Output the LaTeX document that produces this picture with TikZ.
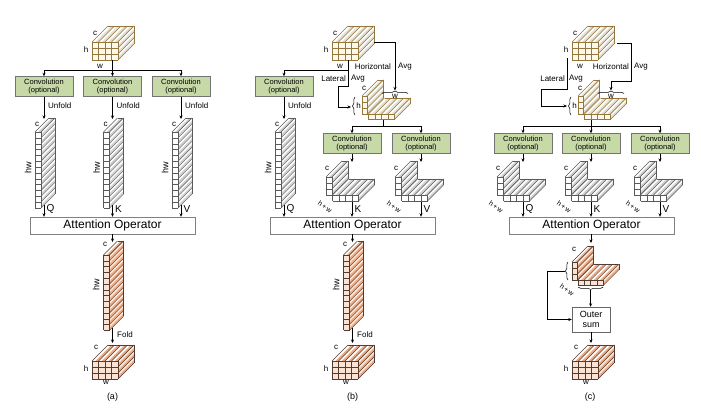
\documentclass[tikz,border=0pt]{standalone}
\usepackage{fontspec}
\setmainfont{Liberation Sans}
\usetikzlibrary{arrows.meta, decorations.pathreplacing, calc}

\definecolor{convgreen}{RGB}{198,217,166}
% input tensor colours
\definecolor{pinline}{RGB}{150,118,58}
\definecolor{pinfront}{RGB}{253,249,236}
\definecolor{pintop}{RGB}{255,255,255}
\definecolor{pinside}{RGB}{255,255,255}
\definecolor{pinstripe}{RGB}{226,222,210}
% query/key/value colours
\definecolor{pgrline}{RGB}{90,90,90}
\definecolor{pgrfront}{RGB}{255,255,255}
\definecolor{pgrtop}{RGB}{255,255,255}
\definecolor{pgrside}{RGB}{255,255,255}
\definecolor{pgrstripe}{RGB}{208,208,208}
% output colours
\definecolor{porline}{RGB}{80,60,50}
\definecolor{porfront}{RGB}{252,226,210}
\definecolor{portop}{RGB}{255,255,255}
\definecolor{porside}{RGB}{252,232,220}
\definecolor{porstripe}{RGB}{240,170,130}

% tensor block: x, y (front top-left), columns, rows, cell width, cell height, depth, palette
\newcommand{\slab}[8]{%
  \pgfmathsetmacro{\slW}{#3*#5}%
  \pgfmathsetmacro{\slH}{#4*#6}%
  % top face
  \fill[#8top] (#1,#2) -- ++(\slW,0) -- ++(#7,-#7) -- ++(-\slW,0) -- cycle;
  \foreach \i in {1,...,#3}
    \fill[#8stripe] ({#1+(\i-0.5)*#5},#2) -- ++(0.5*#5,0) -- ++(#7,-#7) -- ++(-0.5*#5,0) -- cycle;
  \foreach \i in {0,...,#3}
    \draw[#8line, line width=0.4pt] ({#1+\i*#5},#2) -- ++(#7,-#7);
  \draw[#8line, line width=0.4pt] ({#1+#7},{#2-#7}) -- ++(\slW,0);
  % side face
  \fill[#8side] ({#1+\slW},#2) -- ++(0,\slH) -- ++(#7,-#7) -- ++(0,-\slH) -- cycle;
  \foreach \j in {1,...,#4}
    \fill[#8stripe] ({#1+\slW},{#2+(\j-0.5)*#6}) -- ++(0,0.5*#6) -- ++(#7,-#7) -- ++(0,-0.5*#6) -- cycle;
  \foreach \j in {0,...,#4}
    \draw[#8line, line width=0.4pt] ({#1+\slW},{#2+\j*#6}) -- ++(#7,-#7);
  \draw[#8line, line width=0.4pt] ({#1+\slW+#7},{#2-#7}) -- ++(0,\slH);
  % front face
  \fill[#8front] (#1,#2) rectangle ++(\slW,\slH);
  \foreach \i in {0,...,#3}
    \draw[#8line, line width=0.4pt] ({#1+\i*#5},#2) -- ++(0,\slH);
  \foreach \j in {0,...,#4}
    \draw[#8line, line width=0.4pt] (#1,{#2+\j*#6}) -- ++(\slW,0);
}

\begin{document}
\begin{tikzpicture}[
    x=1pt, y=-1pt,
    conv/.style={draw=black!55, fill=convgreen, minimum width=58pt, minimum height=20pt, inner sep=0pt, align=center, font=\fontsize{7.5}{8.5}\selectfont},
    attn/.style={draw=black!50, fill=white, minimum width=165pt, minimum height=17pt, inner sep=0pt, font=\fontsize{12}{14}\selectfont},
    sumbox/.style={draw=black!60, fill=white, minimum width=38pt, minimum height=25pt, inner sep=0pt, align=center, font=\fontsize{9}{10.5}\selectfont},
    lbl/.style={inner sep=0pt, font=\fontsize{8}{9}\selectfont},
    qkv/.style={inner sep=0pt, anchor=west, font=\fontsize{10}{12}\selectfont},
    dimlbl/.style={inner sep=0pt, font=\fontsize{9}{10}\selectfont, rotate=90},
    hwlbl/.style={inner sep=0pt, font=\fontsize{7}{8}\selectfont, rotate=-35},
    sublbl/.style={inner sep=0pt, font=\fontsize{9}{10}\selectfont},
    arr/.style={-{Stealth[length=3.5pt, width=3pt]}, line width=0.6pt},
    lin/.style={line width=0.6pt},
    brc/.style={decorate, decoration={brace, amplitude=2.5pt}, line width=0.5pt}
]
\fill[white] (0,0) rectangle (701,410);
\useasboundingbox (0,0) rectangle (701,410);

% ================= (a) =================
% Input tensor
\slab{92}{42}{4}{3}{6.5}{6}{16}{pin}
\node[lbl] (ca1) at (95,33) {c};
\node[lbl] (ha1) at (86,50) {h};
\node[lbl] (wa1) at (100,66) {w};

% Convolutions
\node[conv] (convQa) at (44,86.5) {Convolution\\(optional)};
\node[conv] (convKa) at (112.5,86.5) {Convolution\\(optional)};
\node[conv] (convVa) at (181,86.5) {Convolution\\(optional)};
\coordinate (cubeA) at (112.5,60);
\coordinate (busA) at (112.5,70);
\draw[lin] (cubeA) -- (busA);
\draw[lin] (convQa.north |- busA) -- (convVa.north |- busA);
\draw[arr] (convQa.north |- busA) -- (convQa.north);
\draw[arr] (busA) -- (convKa.north);
\draw[arr] (convVa.north |- busA) -- (convVa.north);

% Unfolded Q, K, V
\slab{35}{132}{1}{13}{6}{5.85}{14}{pgr}
\slab{103.5}{132}{1}{13}{6}{5.85}{14}{pgr}
\slab{172}{132}{1}{13}{6}{5.85}{14}{pgr}
\node[lbl] (cqa) at (37,124) {c};
\node[lbl] (cka) at (105.5,124) {c};
\node[lbl] (cva) at (174,124) {c};
\node[dimlbl] (hwqa) at (28,168) {hw};
\node[dimlbl] (hwka) at (96.5,168) {hw};
\node[dimlbl] (hwva) at (165,168) {hw};
\coordinate (qaT) at (44,119);
\coordinate (kaT) at (112.5,119);
\coordinate (vaT) at (181,119);
\draw[arr] (convQa.south) -- (qaT);
\draw[arr] (convKa.south) -- (kaT);
\draw[arr] (convVa.south) -- (vaT);
\node[lbl, anchor=west] (unfQa) at (48,106) {Unfold};
\node[lbl, anchor=west] (unfKa) at (116.5,106) {Unfold};
\node[lbl, anchor=west] (unfVa) at (185,106) {Unfold};

% Attention
\node[attn] (attnA) at (112.5,225.5) {Attention Operator};
\coordinate (qaB) at (44,205);
\coordinate (kaB) at (112.5,205);
\coordinate (vaB) at (181,205);
\draw[arr] (qaB) -- (qaB |- attnA.north);
\draw[arr] (kaB) -- (kaB |- attnA.north);
\draw[arr] (vaB) -- (vaB |- attnA.north);
\node[qkv] (qA) at (46.5,209) {Q};
\node[qkv] (kA) at (115,209) {K};
\node[qkv] (vA) at (183.5,209) {V};

% Output
\slab{103.5}{255}{1}{13}{6}{5.8}{14}{por}
\node[lbl] (coa) at (105,244) {c};
\node[dimlbl] (hwoa) at (96,285) {hw};
\coordinate (oaT) at (112.5,242);
\coordinate (oaB) at (112.5,328);
\coordinate (cubeAo) at (112.5,343);
\draw[arr] (attnA.south) -- (oaT);
\draw[arr] (oaB) -- (cubeAo);
\node[lbl, anchor=west] (folda) at (117,335) {Fold};
\slab{92}{361}{4}{3}{6.5}{6}{16}{por}
\node[lbl] (ca2) at (96,347) {c};
\node[lbl] (ha2) at (86,369) {h};
\node[lbl] (wa2) at (106,382) {w};
\node[sublbl] (suba) at (112.5,397) {(a)};

% ================= (b) =================
% Input tensor
\slab{332}{42}{4}{3}{6.5}{6}{16}{pin}
\node[lbl] (cb1) at (335,33) {c};
\node[lbl] (hb1) at (326,50) {h};
\node[lbl] (wb1) at (340,66) {w};

% Query branch
\node[conv] (convQb) at (284,86.5) {Convolution\\(optional)};
\coordinate (cubeB) at (348,60);
\coordinate (busB) at (348,70);
\draw[arr] (busB) -| (convQb.north);
\slab{275}{132}{1}{13}{6}{5.85}{14}{pgr}
\node[lbl] (cqb) at (277,124) {c};
\node[dimlbl] (hwqb) at (268,168) {hw};
\coordinate (qbT) at (284,119);
\draw[arr] (convQb.south) -- (qbT);
\node[lbl, anchor=west] (unfQb) at (288,106) {Unfold};

% Lateral and horizontal pooling
\coordinate (latB) at (338,86);
\coordinate (hbrB) at (351,107);
\draw[arr] (cubeB) |- (latB) |- (hbrB);
\node[lbl, anchor=east] (latb) at (346,79) {Lateral};
\node[lbl, anchor=west] (avgb1) at (351,79) {Avg};
\coordinate (hzB) at (374,42);
\coordinate (wbrB) at (395,90.5);
\draw[arr] (hzB) -| (wbrB);
\node[lbl, anchor=east] (horb) at (391,67) {Horizontal};
\node[lbl, anchor=west] (avgb2) at (398,67) {Avg};
\slab{362}{96}{1}{3}{5.5}{6}{16}{pin}
\slab{368.5}{114}{4}{1}{6.5}{5.5}{16}{pin}
\node[lbl] (cLb) at (364,88) {c};
\draw[brc] (355,115) -- (355,97);
\node[lbl] (hLb) at (358.5,106) {h};
\draw[brc] (382,93.5) -- (408,93.5);
\node[lbl] (wLb) at (395,96.5) {w};

% Key / value branches
\node[conv] (convKb) at (352,143.5) {Convolution\\(optional)};
\node[conv] (convVb) at (421,143.5) {Convolution\\(optional)};
\coordinate (LB) at (383,120);
\coordinate (busB2) at (383,126);
\draw[lin] (LB) -- (busB2);
\draw[lin] (convKb.north |- busB2) -- (convVb.north |- busB2);
\draw[arr] (convKb.north |- busB2) -- (convKb.north);
\draw[arr] (convVb.north |- busB2) -- (convVb.north);
\slab{326}{177}{1}{3}{6}{6}{16}{pgr}
\slab{332.5}{195}{4}{1}{6.5}{6}{16}{pgr}
\slab{395}{177}{1}{3}{6}{6}{16}{pgr}
\slab{401.5}{195}{4}{1}{6.5}{6}{16}{pgr}
\node[lbl] (ckb) at (327,168) {c};
\node[lbl] (cvb) at (396,168) {c};
\node[hwlbl] (hwkb) at (325,207) {h\,+\,w};
\node[hwlbl] (hwvb) at (394,207) {h\,+\,w};
\coordinate (kbT) at (352,162);
\coordinate (vbT) at (421,162);
\draw[arr] (convKb.south) -- (kbT);
\draw[arr] (convVb.south) -- (vbT);

% Attention
\node[attn] (attnB) at (352.5,225.5) {Attention Operator};
\coordinate (qbB) at (284,205);
\coordinate (kbB) at (352,202);
\coordinate (vbB) at (421,202);
\draw[arr] (qbB) -- (qbB |- attnB.north);
\draw[arr] (kbB) -- (kbB |- attnB.north);
\draw[arr] (vbB) -- (vbB |- attnB.north);
\node[qkv] (qB) at (286.5,209) {Q};
\node[qkv] (kB) at (354.5,209) {K};
\node[qkv] (vB) at (423.5,209) {V};

% Output
\slab{343.5}{255}{1}{13}{6}{5.8}{14}{por}
\node[lbl] (cob) at (345,244) {c};
\node[dimlbl] (hwob) at (336,285) {hw};
\coordinate (obT) at (352.5,242);
\coordinate (obB) at (352.5,328);
\coordinate (cubeBo) at (352.5,343);
\draw[arr] (attnB.south) -- (obT);
\draw[arr] (obB) -- (cubeBo);
\node[lbl, anchor=west] (foldb) at (357,335) {Fold};
\slab{332}{361}{4}{3}{6.5}{6}{16}{por}
\node[lbl] (cb2) at (336,347) {c};
\node[lbl] (hb2) at (326,369) {h};
\node[lbl] (wb2) at (346,382) {w};
\node[sublbl] (subb) at (352.5,397) {(b)};

% ================= (c) =================
% Input tensor
\slab{572}{42}{4}{3}{6.5}{6}{16}{pin}
\node[lbl] (cc1) at (575,33) {c};
\node[lbl] (hc1) at (566,50) {h};
\node[lbl] (wc1) at (580,66) {w};

% Lateral and horizontal pooling
\coordinate (cubeC) at (567,58);
\coordinate (latC) at (541,89);
\coordinate (hbrC) at (567,106);
\draw[arr] (cubeC) |- (latC) |- (hbrC);
\node[lbl, anchor=east] (latc) at (565,79) {Lateral};
\node[lbl, anchor=west] (avgc1) at (569,79) {Avg};
\coordinate (hzC) at (617,43);
\coordinate (hzC2) at (631,81);
\coordinate (wbrC) at (611,90.5);
\draw[arr] (hzC) -| (hzC2) -| (wbrC);
\node[lbl, anchor=east] (horc) at (629,67) {Horizontal};
\node[lbl, anchor=west] (avgc2) at (634,67) {Avg};
\slab{578}{96}{1}{3}{5.5}{6}{16}{pin}
\slab{584.5}{114}{4}{1}{6.5}{5.5}{16}{pin}
\node[lbl] (cLc) at (580,88) {c};
\draw[brc] (571,115) -- (571,97);
\node[lbl] (hLc) at (574.5,106) {h};
\draw[brc] (598,93.5) -- (624,93.5);
\node[lbl] (wLc) at (611,96.5) {w};

% Convolutions
\node[conv] (convQc) at (523,143.5) {Convolution\\(optional)};
\node[conv] (convKc) at (591,143.5) {Convolution\\(optional)};
\node[conv] (convVc) at (660,143.5) {Convolution\\(optional)};
\coordinate (LC) at (591,120);
\coordinate (busC) at (591,126);
\draw[lin] (LC) -- (busC);
\draw[lin] (convQc.north |- busC) -- (convVc.north |- busC);
\draw[arr] (convQc.north |- busC) -- (convQc.north);
\draw[arr] (busC) -- (convKc.north);
\draw[arr] (convVc.north |- busC) -- (convVc.north);

% Q, K, V
\slab{497}{177}{1}{3}{6}{6}{16}{pgr}
\slab{503.5}{195}{4}{1}{6.5}{6}{16}{pgr}
\slab{565}{177}{1}{3}{6}{6}{16}{pgr}
\slab{571.5}{195}{4}{1}{6.5}{6}{16}{pgr}
\slab{634}{177}{1}{3}{6}{6}{16}{pgr}
\slab{640.5}{195}{4}{1}{6.5}{6}{16}{pgr}
\node[lbl] (cqc) at (498,168) {c};
\node[lbl] (ckc) at (566,168) {c};
\node[lbl] (cvc) at (635,168) {c};
\node[hwlbl] (hwqc) at (496,207) {h\,+\,w};
\node[hwlbl] (hwkc) at (564,207) {h\,+\,w};
\node[hwlbl] (hwvc) at (633,207) {h\,+\,w};
\coordinate (qcT) at (523,162);
\coordinate (kcT) at (591,162);
\coordinate (vcT) at (660,162);
\draw[arr] (convQc.south) -- (qcT);
\draw[arr] (convKc.south) -- (kcT);
\draw[arr] (convVc.south) -- (vcT);

% Attention
\node[attn] (attnC) at (591.5,225.5) {Attention Operator};
\coordinate (qcB) at (523,202);
\coordinate (kcB) at (591,202);
\coordinate (vcB) at (660,202);
\draw[arr] (qcB) -- (qcB |- attnC.north);
\draw[arr] (kcB) -- (kcB |- attnC.north);
\draw[arr] (vcB) -- (vcB |- attnC.north);
\node[qkv] (qC) at (525.5,209) {Q};
\node[qkv] (kC) at (593.5,209) {K};
\node[qkv] (vC) at (662.5,209) {V};

% Output and outer sum
\coordinate (ocT) at (591,243);
\draw[arr] (ocT |- attnC.south) -- (ocT);
\slab{572}{262}{1}{3}{5.5}{6}{16}{por}
\slab{578}{280}{4}{1}{6.3}{5.5}{16}{por}
\node[lbl] (coc) at (574,249) {c};
\node[hwlbl] (hwoc) at (567,290) {h\,+\,w};
\draw[brc] (568,280) -- (568,262);
\draw[brc] (603.2,287) -- (578,287);
\node[sumbox] (outer) at (591,319.5) {Outer\\sum};
\coordinate (brL) at (565,271);
\coordinate (brLc) at (547,271);
\coordinate (brB) at (590.6,290);
\draw[arr] (brL) -- (brLc) |- (outer.west);
\draw[arr] (brB) -- (brB |- outer.north);
\coordinate (cubeCo) at (591,343);
\draw[arr] (outer.south) -- (cubeCo);
\slab{572}{361}{4}{3}{6.5}{6}{16}{por}
\node[lbl] (cc2) at (576,347) {c};
\node[lbl] (hc2) at (566,369) {h};
\node[lbl] (wc2) at (586,382) {w};
\node[sublbl] (subc) at (590,397) {(c)};
\end{tikzpicture}
\end{document}
